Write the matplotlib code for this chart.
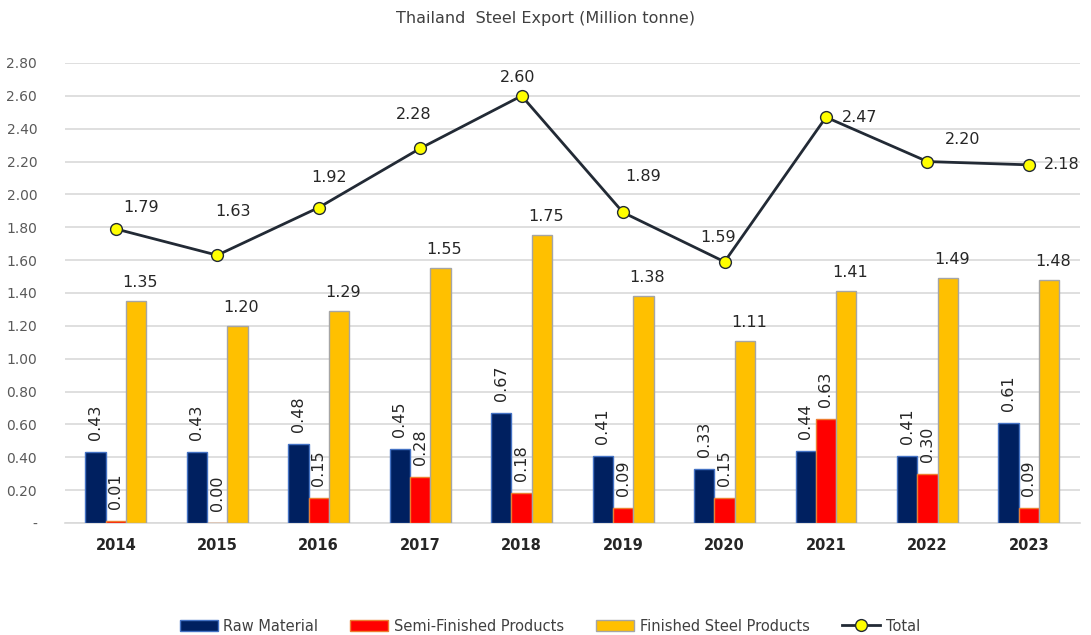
import matplotlib
matplotlib.use("Agg")
import matplotlib.pyplot as plt
import numpy as np

years = ["2014", "2015", "2016", "2017", "2018", "2019", "2020", "2021", "2022", "2023"]
raw_material = [0.43, 0.43, 0.48, 0.45, 0.67, 0.41, 0.33, 0.44, 0.41, 0.61]
semi_finished = [0.01, 0.00, 0.15, 0.28, 0.18, 0.09, 0.15, 0.63, 0.30, 0.09]
finished = [1.35, 1.20, 1.29, 1.55, 1.75, 1.38, 1.11, 1.41, 1.49, 1.48]
total = [1.79, 1.63, 1.92, 2.28, 2.60, 1.89, 1.59, 2.47, 2.20, 2.18]
y_ticks = [0.0, 0.2, 0.4, 0.6, 0.8, 1.0, 1.2, 1.4, 1.6, 1.8, 2.0, 2.2, 2.4, 2.6, 2.8]

# label offsets for the Total series (pixels at 100 dpi -> points)
total_label_offsets_px = [(25, 21), (16, 44), (10, 30), (-6, 34), (-4, 18),
                          (20, 36), (-6, 24), (34, 0), (35, 22), (33, 0)]

plt.rcParams['font.family'] = ['DejaVu Sans']

fig = plt.figure(figsize=(10.91, 6.35), dpi=100)
ax = fig.add_axes([0.0596, 0.1764, 0.930, 0.7244])

x = np.arange(len(years))
w = 0.2
px = 72 / 100.0

b1 = ax.bar(x - w, raw_material, w, color="#002060", edgecolor="#4472C4", linewidth=1.0,
            label="Raw Material", zorder=3)
b2 = ax.bar(x, semi_finished, w, color="#FF0000", edgecolor="#ED7D31", linewidth=1.0,
            label="Semi-Finished Products", zorder=3)
b3 = ax.bar(x + w, finished, w, color="#FFC000", edgecolor="#A5A5A5", linewidth=1.0,
            label="Finished Steel Products", zorder=3)
ln, = ax.plot(x, total, color="#222A35", linewidth=2.0, marker="o", markersize=8.5,
              markerfacecolor="#FFFF00", markeredgecolor="#222A35", markeredgewidth=1.0,
              label="Total", zorder=5)

lab_color = "#262626"
fs = 11.5
for xi, v in zip(x, raw_material):
    ax.annotate(f"{v:.2f}", (xi - w, v), xytext=(0, 12 * px), textcoords="offset points",
                rotation=90, ha="center", va="bottom", fontsize=fs, color=lab_color, zorder=6)
for xi, v in zip(x, semi_finished):
    ax.annotate(f"{v:.2f}", (xi, v), xytext=(0, 12 * px), textcoords="offset points",
                rotation=90, ha="center", va="bottom", fontsize=fs, color=lab_color, zorder=6)
for xi, v in zip(x, finished):
    ax.annotate(f"{v:.2f}", (xi + w, v), xytext=(4 * px, 11 * px), textcoords="offset points",
                ha="center", va="bottom", fontsize=fs, color=lab_color, zorder=6)
for xi, v, (dx, dy) in zip(x, total, total_label_offsets_px):
    ax.annotate(f"{v:.2f}", (xi, v), xytext=(dx * px, dy * px), textcoords="offset points",
                ha="center", va="center", fontsize=fs, color=lab_color, zorder=6,
                annotation_clip=False)

ax.set_xlim(-0.5, len(years) - 0.5)
ax.set_ylim(0, 2.8)
ax.set_yticks(y_ticks)
ax.set_yticklabels(["-" if t == 0 else f"{t:.2f}" for t in y_ticks])
ax.set_xticks(x)
ax.set_xticklabels(years, fontweight="bold", fontsize=10.5, color="#262626")
ax.tick_params(axis="y", length=0, labelsize=10, labelcolor="#595959", pad=20)
ax.tick_params(axis="x", length=0, pad=11)
ax.grid(axis="y", color="#D9D9D9", linewidth=1.2, zorder=0)
ax.set_axisbelow(True)
for s in ["top", "right", "left"]:
    ax.spines[s].set_visible(False)
ax.spines["bottom"].set_color("#D9D9D9")
ax.spines["bottom"].set_linewidth(1.2)

fig.text(0.5, 0.971, "Thailand  Steel Export (Million tonne)", ha="center", va="center",
         fontsize=11.5, color="#404040")

leg = fig.legend(handles=[b1, b2, b3, ln], loc="center", bbox_to_anchor=(0.504, 0.014),
                 ncol=4, frameon=False, fontsize=10.5, handlelength=2.6, handleheight=0.8,
                 columnspacing=2.2, handletextpad=0.4, labelcolor="#404040")

fig.savefig("out.png", dpi=100)
